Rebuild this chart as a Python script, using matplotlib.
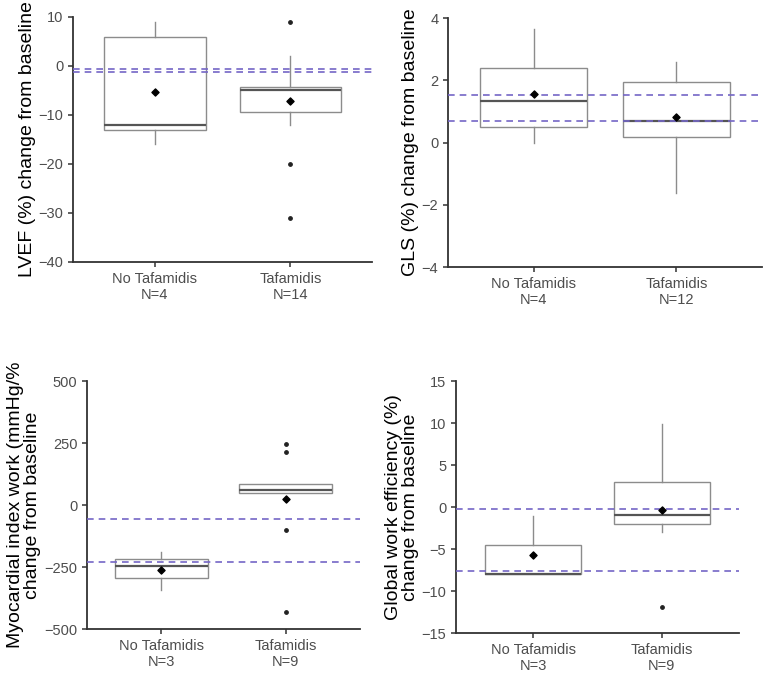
import numpy as np
import matplotlib.pyplot as plt

plt.rcParams['font.family'] = ['Liberation Sans', 'DejaVu Sans']

# groups
groups = ["No Tafamidis", "Tafamidis"]

# LVEF (%)
lvef_n = [4, 14]
lvef_q1 = [-13.0, -9.3]
lvef_med = [-12.0, -5.0]
lvef_q3 = [6.0, -4.3]
lvef_lo = [-16.0, -12.0]
lvef_hi = [9.0, 2.0]
lvef_mean = [-5.25, -7.2]
lvef_out = [[], [9.0, -20.0, -31.0]]
lvef_ref = [-0.7, -1.3]

# GLS (%)
gls_n = [4, 12]
gls_q1 = [0.51, 0.19]
gls_med = [1.35, 0.70]
gls_q3 = [2.41, 1.94]
gls_lo = [0.0, -1.63]
gls_hi = [3.64, 2.6]
gls_mean = [1.57, 0.81]
gls_out = [[], []]
gls_ref = [1.52, 0.68]

# Myocardial index work
miw_n = [3, 9]
miw_q1 = [-296, 47]
miw_med = [-246, 60]
miw_q3 = [-219, 83]
miw_lo = [-343, 47]
miw_hi = [-188, 83]
miw_mean = [-262, 26]
miw_out = [[], [245, 214, -102, -430]]
miw_ref = [-56, -228]

# Global work efficiency
gwe_n = [3, 9]
gwe_q1 = [-8.0, -2.02]
gwe_med = [-7.94, -0.91]
gwe_q3 = [-4.52, 2.98]
gwe_lo = [-8.0, -2.98]
gwe_hi = [-1.03, 9.9]
gwe_mean = [-5.67, -0.4]
gwe_out = [[], [-11.94]]
gwe_ref = [-0.2, -7.6]

panels = [
    dict(pos=[0.0951, 0.6119, 0.3893, 0.3630], n=lvef_n, q1=lvef_q1, med=lvef_med, q3=lvef_q3,
         lo=lvef_lo, hi=lvef_hi, mean=lvef_mean, out=lvef_out, ref=lvef_ref,
         ylim=(-40, 10), yticks=[-40, -30, -20, -10, 0, 10],
         ylabel="LVEF (%) change from baseline"),
    dict(pos=[0.5833, 0.6044, 0.4089, 0.3689], n=gls_n, q1=gls_q1, med=gls_med, q3=gls_q3,
         lo=gls_lo, hi=gls_hi, mean=gls_mean, out=gls_out, ref=gls_ref,
         ylim=(-4, 4), yticks=[-4, -2, 0, 2, 4],
         ylabel="GLS (%) change from baseline"),
    dict(pos=[0.1133, 0.0681, 0.3555, 0.3674], n=miw_n, q1=miw_q1, med=miw_med, q3=miw_q3,
         lo=miw_lo, hi=miw_hi, mean=miw_mean, out=miw_out, ref=miw_ref,
         ylim=(-500, 500), yticks=[-500, -250, 0, 250, 500],
         ylabel="Myocardial index work (mmHg/%\nchange from baseline"),
    dict(pos=[0.5938, 0.0622, 0.3685, 0.3733], n=gwe_n, q1=gwe_q1, med=gwe_med, q3=gwe_q3,
         lo=gwe_lo, hi=gwe_hi, mean=gwe_mean, out=gwe_out, ref=gwe_ref,
         ylim=(-15, 15), yticks=[-15, -10, -5, 0, 5, 10, 15],
         ylabel="Global work efficiency (%)\nchange from baseline"),
]

fig = plt.figure(figsize=(7.68, 6.75), dpi=100)
box_col = '#8c8c8c'
axis_col = '#333333'
dash_col = '#7466c6'

for p in panels:
    ax = fig.add_axes(p['pos'])
    stats = []
    for i in range(2):
        stats.append(dict(med=p['med'][i], q1=p['q1'][i], q3=p['q3'][i],
                          whislo=p['lo'][i], whishi=p['hi'][i], fliers=[]))
    ax.bxp(stats, positions=[1, 2], widths=0.75, patch_artist=True, showfliers=False,
           boxprops=dict(facecolor='white', edgecolor=box_col, linewidth=1.0),
           whiskerprops=dict(color=box_col, linewidth=1.0),
           capprops=dict(linewidth=0),
           medianprops=dict(color='#555555', linewidth=1.6),
           zorder=2)
    for r in p['ref']:
        ax.axhline(r, color=dash_col, linestyle=(0, (4, 3)), linewidth=1.2, zorder=3)
    for i in range(2):
        if p['out'][i]:
            ax.scatter([i + 1] * len(p['out'][i]), p['out'][i], s=6, color='#222222', zorder=4)
    ax.scatter([1, 2], p['mean'], marker='D', s=13, color='black', zorder=5)

    ax.set_xlim(0.4, 2.6)
    ax.set_ylim(*p['ylim'])
    ax.set_yticks(p['yticks'])
    ax.set_xticks([1, 2])
    ax.set_xticklabels([f"{g}\nN={n}" for g, n in zip(groups, p['n'])])
    for s in ['top', 'right']:
        ax.spines[s].set_visible(False)
    for s in ['left', 'bottom']:
        ax.spines[s].set_color(axis_col)
        ax.spines[s].set_linewidth(1.3)
    ax.tick_params(colors=axis_col, labelcolor='#4d4d4d', labelsize=10.5, length=3.5, width=1.1)
    ax.set_ylabel(p['ylabel'], fontsize=14, color='black', labelpad=2, linespacing=1.0)

fig.savefig('out.png', dpi=100)
